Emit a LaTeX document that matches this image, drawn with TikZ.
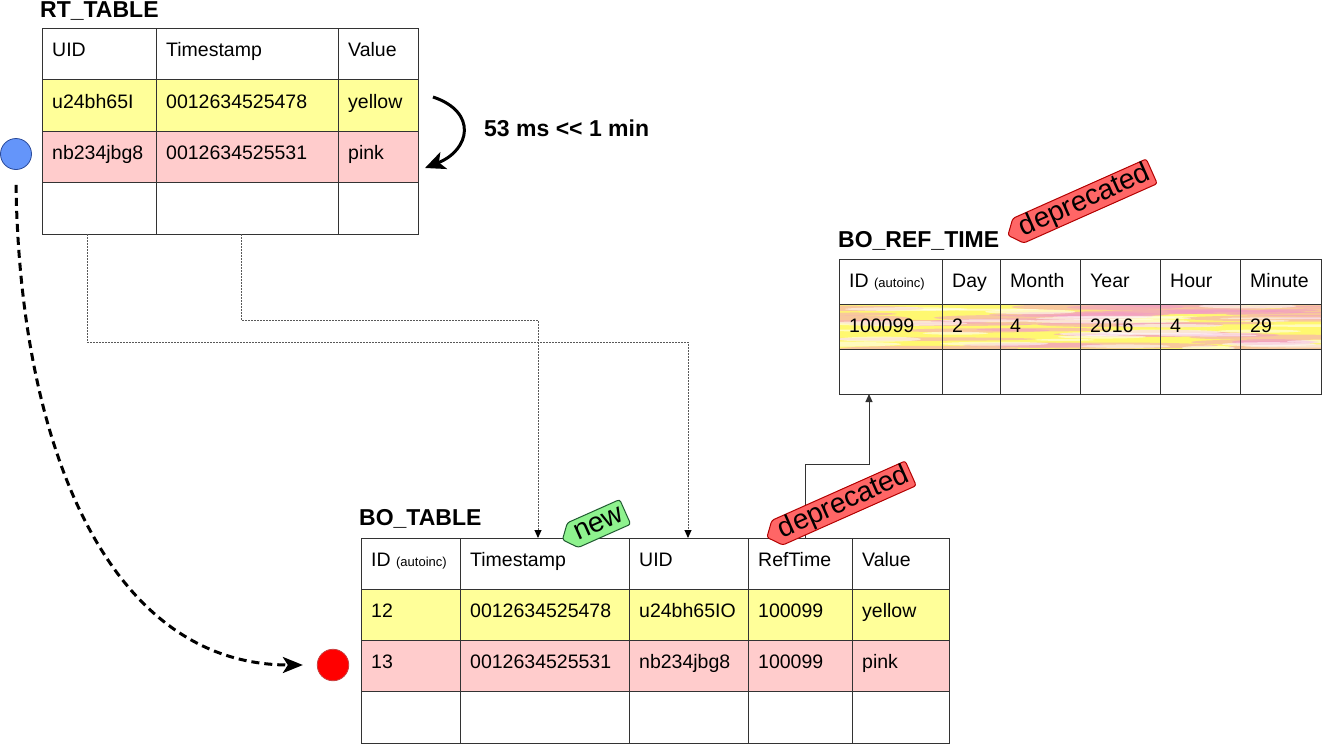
\documentclass[tikz,border=0pt]{standalone}
\usepackage{fontspec}
\setmainfont{Liberation Sans}
\usetikzlibrary{arrows.meta,shapes.symbols,calc}

\definecolor{rowyellow}{HTML}{FFFF99}
\definecolor{rowpink}{HTML}{FFCCCC}
\definecolor{gridline}{HTML}{333333}
\definecolor{texyellow}{HTML}{FFF870}
\definecolor{texpink}{HTML}{F29AC8}
\definecolor{tagredfill}{HTML}{FF6666}
\definecolor{tagredline}{HTML}{B20000}
\definecolor{tagnewfill}{HTML}{8EF28E}
\definecolor{tagnewline}{HTML}{1F5A30}
\definecolor{srcblue}{HTML}{6495FA}
\definecolor{srcblueline}{HTML}{2A4A9A}
\definecolor{dstred}{HTML}{FF0000}
\definecolor{dstredline}{HTML}{C84040}

% one table cell: name, x1, y1, x2, y2, fill, text
\newcommand{\tcell}[7]{%
  \node[cellbox, fill=#6, minimum width={(#4)-(#2)}, minimum height={(#5)-(#3)}]
    (#1) at ({((#2)+(#4))/2},{((#3)+(#5))/2}) {};
  \node[celltext] (#1-t) at ([shift={(10pt,-28.5pt)}]#1.north west) {#7};
}
\newcommand{\autoinc}{ID {\fontsize{13}{15}\selectfont (autoinc)}}

\begin{document}
\begin{tikzpicture}[x=1pt,y=-1pt,
  cellbox/.style={draw=gridline, line width=1pt, inner sep=0pt, outer sep=0pt, rectangle},
  celltext/.style={anchor=base west, inner sep=0pt, font=\fontsize{19.5}{22}\selectfont},
  title/.style={anchor=base west, inner sep=0pt, font=\fontsize{23}{26}\selectfont\bfseries},
  dotconn/.style={draw=black!65, line width=0.9pt, dash pattern=on 1.5pt off 1.5pt,
    -{Triangle[length=8pt,width=7pt,fill=black,color=black]}},
  conn/.style={draw=black!80, line width=1pt, -{Triangle[length=8pt,width=7pt]}},
  lagarrow/.style={line width=3pt, -{Stealth[length=20pt,width=18pt,inset=5pt]}},
  flowarrow/.style={line width=3pt, dash pattern=on 8pt off 5pt,
    -{Stealth[length=20pt,width=16pt,inset=5pt]}},
  tagbase/.style={signal, signal to=west, signal pointer angle=100, line width=1pt,
    rounded corners=2.5pt, inner xsep=3pt, inner ysep=0pt, minimum height=27pt,
    font=\fontsize{28}{28}\selectfont, rotate=24},
  tagred/.style={tagbase, draw=tagredline, fill=tagredfill},
  tagnew/.style={tagbase, draw=tagnewline, fill=tagnewfill},
]
\useasboundingbox (0,0) rectangle (1322,745);

% ---------------- RT_TABLE ----------------
\node[title] (rtTitle) at (40,17.5) {RT\_TABLE};
\tcell{rt-0-0}{42}{28}{156}{79.5}{white}{UID}
\tcell{rt-0-1}{156}{28}{338}{79.5}{white}{Timestamp}
\tcell{rt-0-2}{338}{28}{418}{79.5}{white}{Value}
\tcell{rt-1-0}{42}{79.5}{156}{131}{rowyellow}{u24bh65I}
\tcell{rt-1-1}{156}{79.5}{338}{131}{rowyellow}{0012634525478}
\tcell{rt-1-2}{338}{79.5}{418}{131}{rowyellow}{yellow}
\tcell{rt-2-0}{42}{131}{156}{182.5}{rowpink}{nb234jbg8}
\tcell{rt-2-1}{156}{131}{338}{182.5}{rowpink}{0012634525531}
\tcell{rt-2-2}{338}{131}{418}{182.5}{rowpink}{pink}
\tcell{rt-3-0}{42}{182.5}{156}{234}{white}{}
\tcell{rt-3-1}{156}{182.5}{338}{234}{white}{}
\tcell{rt-3-2}{338}{182.5}{418}{234}{white}{}

% ---------------- BO_REF_TIME ----------------
\node[title] (refTitle) at (838,247) {BO\_REF\_TIME};
% streaky yellow/pink background of the data row
\begin{scope}
  \clip (839,304) rectangle (1321,349);
  \fill[texyellow] (839,304) rectangle (1321,349);
  \pgfmathsetseed{4211}
  \foreach \i in {1,...,42}{
    \pgfmathsetmacro\cx{819+rnd*522}
    \pgfmathsetmacro\cy{304+rnd*45}
    \pgfmathsetmacro\rx{35+rnd*90}
    \pgfmathsetmacro\ry{1.2+rnd*2.4}
    \fill[texpink, opacity=0.5] (\cx,\cy) ellipse[x radius=\rx pt, y radius=\ry pt];
  }
  \foreach \i in {1,...,30}{
    \pgfmathsetmacro\cx{819+rnd*522}
    \pgfmathsetmacro\cy{304+rnd*45}
    \pgfmathsetmacro\rx{25+rnd*60}
    \pgfmathsetmacro\ry{0.8+rnd*1.8}
    \fill[white, opacity=0.55] (\cx,\cy) ellipse[x radius=\rx pt, y radius=\ry pt];
  }
\end{scope}
\tcell{ref-0-0}{839}{259}{942}{304}{white}{\autoinc}
\tcell{ref-0-1}{942}{259}{1000}{304}{white}{Day}
\tcell{ref-0-2}{1000}{259}{1080}{304}{white}{Month}
\tcell{ref-0-3}{1080}{259}{1160}{304}{white}{Year}
\tcell{ref-0-4}{1160}{259}{1240}{304}{white}{Hour}
\tcell{ref-0-5}{1240}{259}{1321}{304}{white}{Minute}
\tcell{ref-1-0}{839}{304}{942}{349}{none}{100099}
\tcell{ref-1-1}{942}{304}{1000}{349}{none}{2}
\tcell{ref-1-2}{1000}{304}{1080}{349}{none}{4}
\tcell{ref-1-3}{1080}{304}{1160}{349}{none}{2016}
\tcell{ref-1-4}{1160}{304}{1240}{349}{none}{4}
\tcell{ref-1-5}{1240}{304}{1321}{349}{none}{29}
\tcell{ref-2-0}{839}{349}{942}{394}{white}{}
\tcell{ref-2-1}{942}{349}{1000}{394}{white}{}
\tcell{ref-2-2}{1000}{349}{1080}{394}{white}{}
\tcell{ref-2-3}{1080}{349}{1160}{394}{white}{}
\tcell{ref-2-4}{1160}{349}{1240}{394}{white}{}
\tcell{ref-2-5}{1240}{349}{1321}{394}{white}{}

% ---------------- BO_TABLE ----------------
\node[title] (boTitle) at (359,525) {BO\_TABLE};
\tcell{bo-0-0}{361}{538}{460}{589}{white}{\autoinc}
\tcell{bo-0-1}{460}{538}{629}{589}{white}{Timestamp}
\tcell{bo-0-2}{629}{538}{748}{589}{white}{UID}
\tcell{bo-0-3}{748}{538}{852}{589}{white}{RefTime}
\tcell{bo-0-4}{852}{538}{949}{589}{white}{Value}
\tcell{bo-1-0}{361}{589}{460}{640}{rowyellow}{12}
\tcell{bo-1-1}{460}{589}{629}{640}{rowyellow}{0012634525478}
\tcell{bo-1-2}{629}{589}{748}{640}{rowyellow}{u24bh65IO}
\tcell{bo-1-3}{748}{589}{852}{640}{rowyellow}{100099}
\tcell{bo-1-4}{852}{589}{949}{640}{rowyellow}{yellow}
\tcell{bo-2-0}{361}{640}{460}{691.5}{rowpink}{13}
\tcell{bo-2-1}{460}{640}{629}{691.5}{rowpink}{0012634525531}
\tcell{bo-2-2}{629}{640}{748}{691.5}{rowpink}{nb234jbg8}
\tcell{bo-2-3}{748}{640}{852}{691.5}{rowpink}{100099}
\tcell{bo-2-4}{852}{640}{949}{691.5}{rowpink}{pink}
\tcell{bo-3-0}{361}{691.5}{460}{743}{white}{}
\tcell{bo-3-1}{460}{691.5}{629}{743}{white}{}
\tcell{bo-3-2}{629}{691.5}{748}{743}{white}{}
\tcell{bo-3-3}{748}{691.5}{852}{743}{white}{}
\tcell{bo-3-4}{852}{691.5}{949}{743}{white}{}

% ---------------- column mapping ----------------
\coordinate (rtUidOut) at (87,234);
\coordinate (rtTsOut) at (241,234);
\coordinate (boTsIn) at (538,538);
\coordinate (boUidIn) at (688,538);
\draw[dotconn] (rtUidOut) -- ++(0,108) -| (boUidIn);
\draw[dotconn] (rtTsOut) -- ++(0,86) -| (boTsIn);

\coordinate (boRefOut) at (805,538);
\coordinate (refIdIn) at (869,394);
\draw[conn] (boRefOut) -- ++(0,-74) -| (refIdIn);

% ---------------- timing note ----------------
\coordinate (lagFrom) at (433,97);
\coordinate (lagTo) at (425,168);
\draw[lagarrow] (lagFrom) .. controls (478,112) and (470,150) .. (lagTo);
\node[title] (lagText) at (484,136.5) {53 ms <\kern0pt< 1 min};

% ---------------- row flow ----------------
\node[circle, draw=srcblueline, fill=srcblue, line width=0.8pt, minimum size=31pt, inner sep=0pt] (src) at (16,154) {};
\node[circle, draw=dstredline, fill=dstred, line width=0.8pt, minimum size=31.5pt, inner sep=0pt] (dst) at (333,665) {};
\draw[flowarrow] ([yshift=-15pt]src.south) .. controls (20,450) and (110,665) .. ([xshift=-14pt]dst.west);

% ---------------- status tags ----------------
\node[tagred] (tagRefTable) at (1085,201) {deprecated};
\node[tagred] (tagRefCol) at (844,503) {deprecated};
\node[tagnew] (tagTs) at (599,523.5) {new};
\end{tikzpicture}
\end{document}
